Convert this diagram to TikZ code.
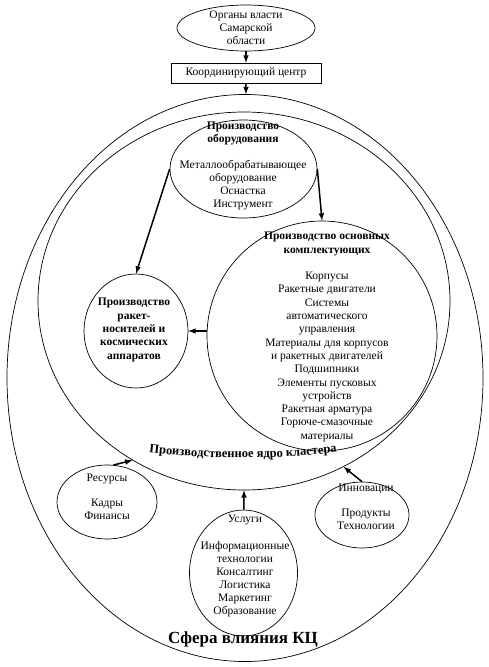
\documentclass[tikz,border=0pt]{standalone}
\usepackage{fontspec}
\setmainfont{Liberation Serif}
\usepackage{tikz}
\usetikzlibrary{shapes,arrows,positioning,decorations.text}
\tikzstyle{oval} = [draw, ellipse, line width=0.7pt, inner sep=0pt]
\tikzstyle{block} = [draw, rectangle, line width=0.7pt, minimum width=150pt, minimum height=20pt, inner sep=0pt]
\tikzstyle{txt} = [align=center, inner sep=0pt, font=\fontsize{11.5}{13}\selectfont]
\tikzstyle{boldtxt} = [align=center, inner sep=0pt, font=\fontsize{11.5}{13.4}\selectfont\bfseries]
\tikzstyle{connector} = [->, line width=1.5pt]

\begin{document}
\begin{tikzpicture}[x=1pt, y=-1pt, >=latex]
    \useasboundingbox (0,0) rectangle (488,667);
    % spheres
    \node (outer) [oval, minimum width=476pt, minimum height=567pt] at (245,378) {};
    \node (core) [oval, minimum width=412pt, minimum height=378pt] at (244,301) {};

    % top of the scheme
    \node (gov) [oval, minimum width=138pt, minimum height=46pt] at (246,28) {};
    \node (gov-text) [txt] at (gov) {Органы власти\\Самарской\\области};
    \node (kc) [block, font=\fontsize{11.5}{13}\selectfont] at (246,73) {Координирующий центр};

    % core of the cluster
    \node (equip) [oval, minimum width=147pt, minimum height=98pt] at (243.5,169) {};
    \node (equip-text) [txt] at (243,166) {\textbf{Производство}\\\textbf{оборудования}\\[13pt]Металлообрабатывающее\\оборудование\\Оснастка\\Инструмент};
    \node (parts) [oval, minimum width=230pt, minimum height=230pt] at (322,336) {};
    \node (parts-text) [txt, font=\fontsize{11.5}{13.3}\selectfont] at (327,337) {\textbf{Производство основных}\\\textbf{комплектующих}\\[13.3pt]Корпусы\\Ракетные двигатели\\Системы\\автоматического\\управления\\Материалы для корпусов\\и ракетных двигателей\\Подшипники\\Элементы пусковых\\устройств\\Ракетная арматура\\Горюче-смазочные\\материалы};
    \node (rocket) [oval, minimum width=104pt, minimum height=114pt] at (136,331) {};
    \node (rocket-text) [boldtxt] at (134,330) {Производство\\ракет-\\носителей и\\космических\\аппаратов};

    % sphere of influence
    \node (res) [oval, minimum width=100pt, minimum height=74pt] at (107,502) {};
    \node (res-text) [txt] at (107,497) {Ресурсы\\[12pt]Кадры\\Финансы};
    \node (serv) [oval, minimum width=108pt, minimum height=126pt] at (243.5,573) {};
    \node (serv-text) [txt] at (245,566) {Услуги\\[14pt]Информационные\\технологии\\Консалтинг\\Логистика\\Маркетинг\\Образование};
    \node (inn) [oval, minimum width=94pt, minimum height=66pt] at (362,515) {};
    \node (inn-text) [txt] at (366,507) {Инновации\\[12pt]Продукты\\Технологии};

    \path [decorate, decoration={text along path, text align=center,
        text={|\fontsize{12.5}{14}\selectfont\bfseries|Производственное ядро кластера}}]
        (118,448) .. controls (201,461) and (285,461) .. (368,448);
    \node (kc-label) [font=\fontsize{17}{19}\selectfont\bfseries] at (243,639) {Сфера влияния КЦ};

    \draw [connector] (gov) -- (kc);
    \draw [connector] (kc) -- (outer);
    \draw [connector] (equip.west) -- (rocket.north);
    \draw [connector] (equip.east) -- (parts.north);
    \draw [connector] (rocket.east -| parts.west) -- (rocket.east);
    \draw [connector] (res.80) -- (core.235);
    \draw [connector] (serv) -- (core.south);
    \draw [connector] (inn.north) -- (core.301);
\end{tikzpicture}
\end{document}
